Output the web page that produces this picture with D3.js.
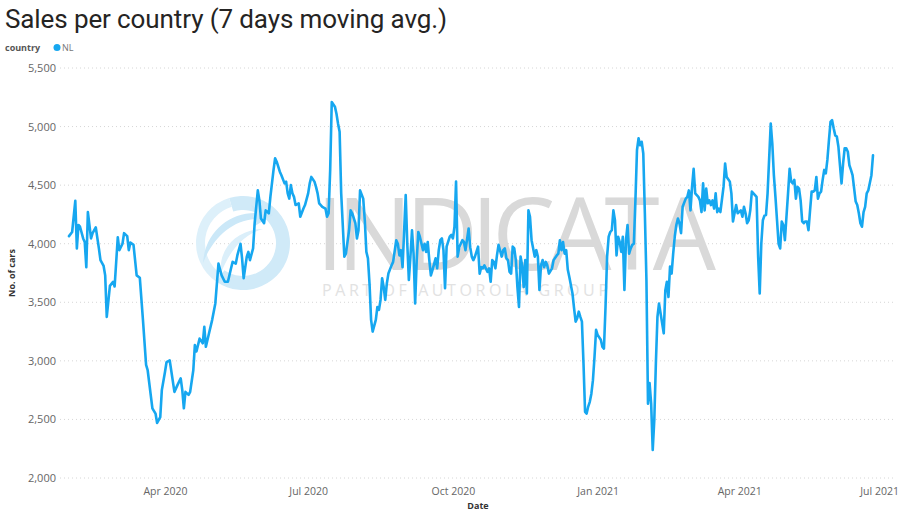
<!DOCTYPE html>
<html>
<head>
<meta charset="utf-8">
<script src="https://cdn.jsdelivr.net/npm/d3@7"></script>
<style>
  body { margin: 0; background: #fff; }
  svg { display: block; }
</style>
</head>
<body>
<div id="chart"></div>
<script>
// NL sales, 7 day moving average. Day offsets count from 31 Jan 2020.
const startDay = "2020-01-31";
const endDay = "2021-06-25";
const dayOffsets = [
  0,2,4,5,6,7,9,10,11,12,14,15,17,19,20,22,23,24,26,28,29,31,32,34,35,37,38,39,41,43,45,47,49,50,53,55,56,58,59,61,62,64,
  67,69,71,72,73,74,76,77,79,80,81,83,85,86,87,89,91,93,95,97,99,101,103,104,106,107,109,110,111,113,114,115,117,118,120,121,122,124,125,127,128,
  130,131,132,134,135,137,138,139,140,141,142,143,144,146,147,149,150,152,153,154,156,157,158,159,161,163,164,165,166,167,169,170,171,172,173,175,176,178,179,180,182,183,184,185,187,188,189,190,191,192,193,195,196,197,198,199,200,201,202,203,205,206,208,209,210,211,212,214,215,216,217,218,219,220,221,222,223,225,226,227,228,229,230,231,233,234,235,236,237,238,239,240,242,243,244,245,246,247,248,250,251,252,254,255,256,257,258,260,261,262,263,264,266,267,268,269,270,271,272,273,275,276,277,278,279,280,281,282,283,284,285,286,287,288,289,290,291,292,293,294,296,297,298,299,300,301,302,303,304,305,307,308,310,311,312,313,314,315,316,317,318,
  320,321,322,323,324,325,326,327,328,329,330,331,332,333,334,335,336,338,339,340,341,342,343,344,345,346,347,348,349,350,351,352,353,354,355,356,357,358,359,360,361,362,363,364,365,366,367,368,369,370,371,372,373,374,375,377,378,379,380,381,382,383,384,385,386,387,388,389,390,392,393,394,395,396,397,398,400,401,402,403,404,405,406,407,408,409,410,411,412,413,414,416,417,418,420,421,422,423,424,425,427,428,429,430,431,432,433,434,436,437,438,439,440,441,442,443,444,446,447,448,449,450,451,452,453,454,455,456,457,458,459,460,461,462,463,464,465,466,467,468,469,470,471,472,473,474,475,476,477,478,479,480,481,482,483,484,485,486,487,488,489,490,491,492,493,494,495,496,497,498,500,501,502,503,504,505,506,507,508,510,511
];
const salesNL = [
  4065,4100,4366,3960,4160,4145,4045,4015,3800,4270,4045,4090,4140,3960,3860,3810,3730,3375,3640,3675,3635,4055,3945,4000,4090,4065,3945,4010,3990,3730,3710,3350,2965,2920,2595,2550,2470,2520,2750,2905,2990,3005,
  2735,2795,2850,2750,2595,2735,2710,2735,2920,3135,3080,3190,3150,3290,3120,3235,3350,3490,3830,3730,3675,3675,3790,3845,3830,3900,4000,3875,3705,3890,3930,3860,3960,4175,4455,4370,4215,4175,4285,4260,4400,
  4630,4730,4700,4615,4585,4515,4530,4430,4385,4500,4430,4400,4330,4345,4230,4300,4330,4430,4515,4570,4530,4485,4430,4345,4315,4300,4230,4260,4630,5210,5170,5110,5025,4955,4430,3890,3915,4115,4285,4260,4175,4045,4115,4455,4385,4200,3930,3875,3660,3350,3250,3350,3460,3435,3520,3705,3630,3520,3660,3745,3815,3845,4030,4000,3900,3945,3800,4415,4000,3690,3890,4115,3915,3490,3860,4100,4060,3945,4000,3930,4015,3860,3730,3775,3875,3790,3945,4030,4045,3945,3620,3975,4060,4075,4045,4145,4530,3890,3970,4030,4015,3945,4130,3970,3890,3860,3890,3975,3745,3800,3790,3815,3760,3790,3675,3860,3845,3790,3900,3990,3890,3945,3960,3875,3860,3760,3745,3975,3960,3860,3630,3460,3890,3815,3630,3860,3575,4285,4230,4030,3890,3945,3890,3605,3815,3860,3800,3845,3815,3745,3790,3860,3900,3915,4030,3945,4015,3915,3945,3780,3715,
  3575,3450,3335,3365,3420,3375,3335,2980,2565,2550,2610,2650,2720,2835,3035,3265,3220,3180,3120,3105,3460,3890,4060,4100,4115,4285,4200,3900,4060,4015,3930,4060,3605,4030,4160,3915,3960,3990,4000,4370,4800,4900,4840,4870,4770,4260,3690,2635,2810,2635,2240,2495,2980,3375,3490,3320,3235,3600,3675,3545,3805,3745,3915,4060,4160,4215,4175,4090,4315,4385,4400,4455,4285,4485,4640,4430,4400,4370,4270,4515,4285,4470,4345,4370,4330,4370,4300,4430,4270,4300,4270,4485,4685,4570,4530,4430,4190,4260,4330,4260,4285,4230,4315,4260,4175,4200,4285,4445,4415,4400,3890,3575,4000,4200,4240,4245,4430,5025,4855,4585,4400,4200,4000,3960,4190,4160,4030,4230,4430,4640,4530,4515,4545,4385,4485,4470,4370,4190,4175,4190,4190,4115,4285,4445,4445,4455,4570,4385,4430,4445,4545,4630,4600,4715,4885,5040,5055,4985,4925,4915,4830,4670,4515,4685,4815,4815,4785,4670,4630,4585,4360,4330,4260,4175,4145,4270,4315,4430,4455,4585,4755
];
const yTicks = [2000, 2500, 3000, 3500, 4000, 4500, 5000, 5500];
const xTickDays = ["2020-04-01", "2020-07-01", "2020-10-01", "2021-01-01", "2021-04-01", "2021-07-01"];

const W = 900, H = 514;
const parse = d3.utcParse("%Y-%m-%d");
const start = parse(startDay);
const points = dayOffsets.map((d, i) => ({ date: d3.utcDay.offset(start, d), value: salesNL[i] }));

const svg = d3.select('#chart').append('svg').attr('width', W).attr('height', H);

const x = d3.scaleUtc().domain([start, parse(endDay)]).range([69, 873]);
const y = d3.scaleLinear().domain([2000, 5500]).range([478, 68]);

// title + legend
svg.append('text').text('Sales per country (7 days moving avg.)')
  .attr('x', 5).attr('y', 28).attr('fill', '#252423').attr('textLength', 442)
  .style('font-family', 'Roboto, sans-serif').style('font-size', '26px').style('font-weight', 400);
svg.append('text').text('country').attr('x', 5).attr('y', 51)
  .attr('fill', '#555').style('font-family', '"Open Sans", sans-serif').style('font-size', '9px').style('font-weight', 'bold');
svg.append('circle').attr('cx', 57).attr('cy', 47.5).attr('r', 3.5).attr('fill', '#16a7f0');
svg.append('text').text('NL').attr('x', 62).attr('y', 51)
  .attr('fill', '#777').style('font-family', '"Open Sans", sans-serif').style('font-size', '9px');

// gridlines
svg.append('g').selectAll('line').data(yTicks).join('line')
  .attr('x1', 60).attr('x2', 895).attr('y1', d => y(d)).attr('y2', d => y(d))
  .attr('stroke', '#d6d6d6').attr('stroke-width', 1).attr('stroke-dasharray', '1,3');

// y axis
const yAxis = svg.append('g').attr('transform', 'translate(56,0)')
  .call(d3.axisLeft(y).tickValues(yTicks).tickFormat(d3.format(',')).tickSize(0).tickPadding(0));
yAxis.select('.domain').remove();
yAxis.selectAll('text').attr('fill', '#666').style('font-family', '"Open Sans", sans-serif').style('font-size', '11px');

svg.append('text').text('No. of cars')
  .attr('transform', `translate(15,${y(3750)}) rotate(-90)`).attr('text-anchor', 'middle')
  .attr('fill', '#333').style('font-family', '"Open Sans", sans-serif').style('font-size', '9px').style('font-weight', 'bold');

// x axis
const xAxis = svg.append('g').attr('transform', 'translate(0,480)')
  .call(d3.axisBottom(x).tickValues(xTickDays.map(parse)).tickFormat(d3.utcFormat('%b %Y')).tickSize(0).tickPadding(8));
xAxis.select('.domain').remove();
xAxis.selectAll('text').attr('fill', '#666').style('font-family', '"Open Sans", sans-serif').style('font-size', '10.5px');
// last label sits against the right edge, as in Power BI
xAxis.selectAll('.tick:last-of-type text').attr('text-anchor', 'end').attr('dx', '16');

svg.append('text').text('Date').attr('x', 478).attr('y', 509).attr('text-anchor', 'middle')
  .attr('fill', '#333').style('font-family', '"Open Sans", sans-serif').style('font-size', '9px').style('font-weight', 'bold');

// watermark
const wm = svg.append('g').attr('pointer-events', 'none');
const logo = wm.append('g').attr('transform', 'translate(243,243)');
logo.append('path')
  .attr('d', d3.arc()({ innerRadius: 33, outerRadius: 47, startAngle: -0.3, endAngle: Math.PI + 0.6 }))
  .attr('fill', '#d0eaf8');
logo.append('path')
  .attr('d', d3.arc()({ innerRadius: 38, outerRadius: 47, startAngle: Math.PI + 0.6, endAngle: 2 * Math.PI - 0.3 }))
  .attr('fill', '#ddf0fa');
logo.append('path')
  .attr('d', 'M-40,20 C-38,-10 -15,-30 12,-30 L8,-38 L30,-28 L10,-16 L12,-24 C-12,-22 -30,-5 -40,20 Z')
  .attr('fill', '#cbe8f8');
logo.append('path')
  .attr('d', 'M-22,30 C-25,5 -5,-14 20,-14 C-2,-8 -14,10 -22,30 Z')
  .attr('fill', '#dbeffa');
wm.append('text').text('INDICATA').attr('x', 316).attr('y', 270)
  .attr('fill', '#d9d9d9').attr('textLength', 400)
  .style('font-family', '"Open Sans", sans-serif').style('font-size', '100px').style('font-weight', 400);
wm.append('text').text('PART OF AUTOROLA GROUP').attr('x', 322).attr('y', 296)
  .attr('fill', '#e2e2e2').attr('textLength', 290)
  .style('font-family', '"Open Sans", sans-serif').style('font-size', '16px').style('letter-spacing', '4px');

// line
const line = d3.line().x(d => x(d.date)).y(d => y(d.value));
svg.append('path').datum(points)
  .attr('d', line).attr('fill', 'none').attr('stroke', '#16a7f0')
  .attr('stroke-width', 2.6).attr('stroke-linejoin', 'round').attr('stroke-linecap', 'round');
</script>
</body>
</html>
